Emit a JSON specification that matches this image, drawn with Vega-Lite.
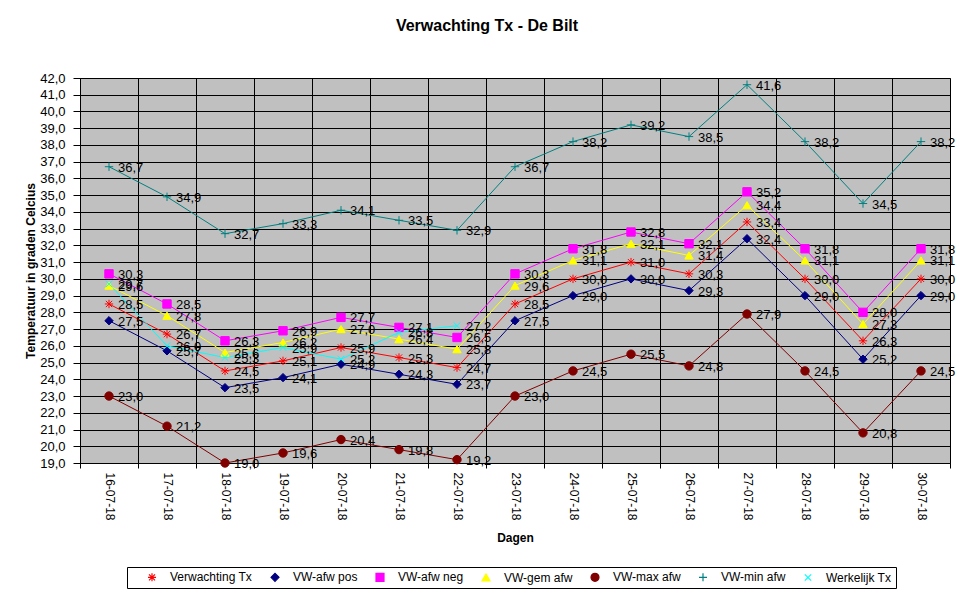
{
  "$schema": "https://vega.github.io/schema/vega-lite/v6.json",
  "width": 870,
  "height": 385,
  "autosize": {"type": "none"},
  "padding": {"left": 80, "top": 78, "right": 25, "bottom": 135},
  "background": "white",
  "title": {
    "text": "Verwachting Tx - De Bilt",
    "font": "Liberation Sans",
    "fontSize": 16,
    "fontWeight": "bold",
    "color": "black",
    "offset": 38,
    "dx": -28
  },
  "config": {
    "locale": {"number": {"decimal": ",", "thousands": ".", "grouping": [3], "currency": ["€", ""]}},
    "view": {"fill": "#C0C0C0", "stroke": "#808080", "strokeWidth": 1},
    "font": "Liberation Sans"
  },
  "data": {
    "values": [
      {"dag": "16-07-18", "reeks": "Verwachting Tx", "temp": 28.5},
      {"dag": "17-07-18", "reeks": "Verwachting Tx", "temp": 26.7},
      {"dag": "18-07-18", "reeks": "Verwachting Tx", "temp": 24.5},
      {"dag": "19-07-18", "reeks": "Verwachting Tx", "temp": 25.1},
      {"dag": "20-07-18", "reeks": "Verwachting Tx", "temp": 25.9},
      {"dag": "21-07-18", "reeks": "Verwachting Tx", "temp": 25.3},
      {"dag": "22-07-18", "reeks": "Verwachting Tx", "temp": 24.7},
      {"dag": "23-07-18", "reeks": "Verwachting Tx", "temp": 28.5},
      {"dag": "24-07-18", "reeks": "Verwachting Tx", "temp": 30.0},
      {"dag": "25-07-18", "reeks": "Verwachting Tx", "temp": 31.0},
      {"dag": "26-07-18", "reeks": "Verwachting Tx", "temp": 30.3},
      {"dag": "27-07-18", "reeks": "Verwachting Tx", "temp": 33.4},
      {"dag": "28-07-18", "reeks": "Verwachting Tx", "temp": 30.0},
      {"dag": "29-07-18", "reeks": "Verwachting Tx", "temp": 26.3},
      {"dag": "30-07-18", "reeks": "Verwachting Tx", "temp": 30.0},

      {"dag": "16-07-18", "reeks": "VW-afw pos", "temp": 27.5},
      {"dag": "17-07-18", "reeks": "VW-afw pos", "temp": 25.7},
      {"dag": "18-07-18", "reeks": "VW-afw pos", "temp": 23.5},
      {"dag": "19-07-18", "reeks": "VW-afw pos", "temp": 24.1},
      {"dag": "20-07-18", "reeks": "VW-afw pos", "temp": 24.9},
      {"dag": "21-07-18", "reeks": "VW-afw pos", "temp": 24.3},
      {"dag": "22-07-18", "reeks": "VW-afw pos", "temp": 23.7},
      {"dag": "23-07-18", "reeks": "VW-afw pos", "temp": 27.5},
      {"dag": "24-07-18", "reeks": "VW-afw pos", "temp": 29.0},
      {"dag": "25-07-18", "reeks": "VW-afw pos", "temp": 30.0},
      {"dag": "26-07-18", "reeks": "VW-afw pos", "temp": 29.3},
      {"dag": "27-07-18", "reeks": "VW-afw pos", "temp": 32.4},
      {"dag": "28-07-18", "reeks": "VW-afw pos", "temp": 29.0},
      {"dag": "29-07-18", "reeks": "VW-afw pos", "temp": 25.2},
      {"dag": "30-07-18", "reeks": "VW-afw pos", "temp": 29.0},

      {"dag": "16-07-18", "reeks": "VW-afw neg", "temp": 30.3},
      {"dag": "17-07-18", "reeks": "VW-afw neg", "temp": 28.5},
      {"dag": "18-07-18", "reeks": "VW-afw neg", "temp": 26.3},
      {"dag": "19-07-18", "reeks": "VW-afw neg", "temp": 26.9},
      {"dag": "20-07-18", "reeks": "VW-afw neg", "temp": 27.7},
      {"dag": "21-07-18", "reeks": "VW-afw neg", "temp": 27.1},
      {"dag": "22-07-18", "reeks": "VW-afw neg", "temp": 26.5},
      {"dag": "23-07-18", "reeks": "VW-afw neg", "temp": 30.3},
      {"dag": "24-07-18", "reeks": "VW-afw neg", "temp": 31.8},
      {"dag": "25-07-18", "reeks": "VW-afw neg", "temp": 32.8},
      {"dag": "26-07-18", "reeks": "VW-afw neg", "temp": 32.1},
      {"dag": "27-07-18", "reeks": "VW-afw neg", "temp": 35.2},
      {"dag": "28-07-18", "reeks": "VW-afw neg", "temp": 31.8},
      {"dag": "29-07-18", "reeks": "VW-afw neg", "temp": 28.0},
      {"dag": "30-07-18", "reeks": "VW-afw neg", "temp": 31.8},

      {"dag": "16-07-18", "reeks": "VW-gem afw", "temp": 29.6},
      {"dag": "17-07-18", "reeks": "VW-gem afw", "temp": 27.8},
      {"dag": "18-07-18", "reeks": "VW-gem afw", "temp": 25.6},
      {"dag": "19-07-18", "reeks": "VW-gem afw", "temp": 26.2},
      {"dag": "20-07-18", "reeks": "VW-gem afw", "temp": 27.0},
      {"dag": "21-07-18", "reeks": "VW-gem afw", "temp": 26.4},
      {"dag": "22-07-18", "reeks": "VW-gem afw", "temp": 25.8},
      {"dag": "23-07-18", "reeks": "VW-gem afw", "temp": 29.6},
      {"dag": "24-07-18", "reeks": "VW-gem afw", "temp": 31.1},
      {"dag": "25-07-18", "reeks": "VW-gem afw", "temp": 32.1},
      {"dag": "26-07-18", "reeks": "VW-gem afw", "temp": 31.4},
      {"dag": "27-07-18", "reeks": "VW-gem afw", "temp": 34.4},
      {"dag": "28-07-18", "reeks": "VW-gem afw", "temp": 31.1},
      {"dag": "29-07-18", "reeks": "VW-gem afw", "temp": 27.3},
      {"dag": "30-07-18", "reeks": "VW-gem afw", "temp": 31.1},

      {"dag": "16-07-18", "reeks": "VW-max afw", "temp": 23.0},
      {"dag": "17-07-18", "reeks": "VW-max afw", "temp": 21.2},
      {"dag": "18-07-18", "reeks": "VW-max afw", "temp": 19.0},
      {"dag": "19-07-18", "reeks": "VW-max afw", "temp": 19.6},
      {"dag": "20-07-18", "reeks": "VW-max afw", "temp": 20.4},
      {"dag": "21-07-18", "reeks": "VW-max afw", "temp": 19.8},
      {"dag": "22-07-18", "reeks": "VW-max afw", "temp": 19.2},
      {"dag": "23-07-18", "reeks": "VW-max afw", "temp": 23.0},
      {"dag": "24-07-18", "reeks": "VW-max afw", "temp": 24.5},
      {"dag": "25-07-18", "reeks": "VW-max afw", "temp": 25.5},
      {"dag": "26-07-18", "reeks": "VW-max afw", "temp": 24.8},
      {"dag": "27-07-18", "reeks": "VW-max afw", "temp": 27.9},
      {"dag": "28-07-18", "reeks": "VW-max afw", "temp": 24.5},
      {"dag": "29-07-18", "reeks": "VW-max afw", "temp": 20.8},
      {"dag": "30-07-18", "reeks": "VW-max afw", "temp": 24.5},

      {"dag": "16-07-18", "reeks": "VW-min afw", "temp": 36.7},
      {"dag": "17-07-18", "reeks": "VW-min afw", "temp": 34.9},
      {"dag": "18-07-18", "reeks": "VW-min afw", "temp": 32.7},
      {"dag": "19-07-18", "reeks": "VW-min afw", "temp": 33.3},
      {"dag": "20-07-18", "reeks": "VW-min afw", "temp": 34.1},
      {"dag": "21-07-18", "reeks": "VW-min afw", "temp": 33.5},
      {"dag": "22-07-18", "reeks": "VW-min afw", "temp": 32.9},
      {"dag": "23-07-18", "reeks": "VW-min afw", "temp": 36.7},
      {"dag": "24-07-18", "reeks": "VW-min afw", "temp": 38.2},
      {"dag": "25-07-18", "reeks": "VW-min afw", "temp": 39.2},
      {"dag": "26-07-18", "reeks": "VW-min afw", "temp": 38.5},
      {"dag": "27-07-18", "reeks": "VW-min afw", "temp": 41.6},
      {"dag": "28-07-18", "reeks": "VW-min afw", "temp": 38.2},
      {"dag": "29-07-18", "reeks": "VW-min afw", "temp": 34.5},
      {"dag": "30-07-18", "reeks": "VW-min afw", "temp": 38.2},

      {"dag": "16-07-18", "reeks": "Werkelijk Tx", "temp": 29.7},
      {"dag": "17-07-18", "reeks": "Werkelijk Tx", "temp": 26.0},
      {"dag": "18-07-18", "reeks": "Werkelijk Tx", "temp": 25.3},
      {"dag": "19-07-18", "reeks": "Werkelijk Tx", "temp": 25.9},
      {"dag": "20-07-18", "reeks": "Werkelijk Tx", "temp": 25.2},
      {"dag": "21-07-18", "reeks": "Werkelijk Tx", "temp": 26.8},
      {"dag": "22-07-18", "reeks": "Werkelijk Tx", "temp": 27.2}
    ]
  },
  "encoding": {
    "x": {
      "field": "dag",
      "type": "ordinal",
      "sort": null,
      "scale": {"type": "band", "paddingInner": 0, "paddingOuter": 0},
      "title": "Dagen",
      "axis": {
        "labelAngle": 90,
        "labelAlign": "left",
        "labelBaseline": "middle",
        "labelPadding": 4,
        "labelFontSize": 12,
        "labelColor": "black",
        "tickBand": "extent",
        "tickColor": "black",
        "tickSize": 5,
        "domainColor": "black",
        "grid": true,
        "gridColor": "black",
        "gridOpacity": 1,
        "titleFontSize": 12,
        "titleFontWeight": "bold",
        "titleColor": "black",
        "titlePadding": 12
      }
    },
    "y": {
      "field": "temp",
      "type": "quantitative",
      "scale": {"domain": [19, 42], "nice": false, "zero": false},
      "title": "Temperatuur in graden Celcius",
      "axis": {
        "values": [19, 20, 21, 22, 23, 24, 25, 26, 27, 28, 29, 30, 31, 32, 33, 34, 35, 36, 37, 38, 39, 40, 41, 42],
        "format": ".1f",
        "labelFontSize": 13,
        "labelColor": "black",
        "labelPadding": 8,
        "tickColor": "black",
        "tickSize": 7,
        "domainColor": "black",
        "grid": true,
        "gridColor": "black",
        "gridOpacity": 1,
        "titleFontSize": 12,
        "titleFontWeight": "bold",
        "titleColor": "black",
        "titlePadding": 2
      }
    }
  },
  "layer": [
    {
      "mark": {"type": "line", "strokeWidth": 1},
      "encoding": {
        "stroke": {
          "field": "reeks",
          "type": "nominal",
          "title": null,
          "scale": {
            "domain": ["Verwachting Tx", "VW-afw pos", "VW-afw neg", "VW-gem afw", "VW-max afw", "VW-min afw", "Werkelijk Tx"],
            "range": ["#FF0000", "#000080", "#FF00FF", "#FFFF00", "#800000", "#008080", "#00FFFF"]
          }
        }
      }
    },
    {
      "mark": {"type": "point", "size": 70, "strokeWidth": 1, "opacity": 1},
      "encoding": {
        "stroke": {
          "field": "reeks",
          "type": "nominal",
          "title": null,
          "legend": {
            "orient": "none",
            "legendX": 47,
            "legendY": 489,
            "direction": "horizontal",
            "columns": 7,
            "title": null,
            "strokeColor": "black",
            "fillColor": "white",
            "padding": 4,
            "columnPadding": 1,
            "symbolSize": 64,
            "symbolOffset": 15,
            "symbolStrokeWidth": 1.2,
            "labelFontSize": 12,
            "labelColor": "black",
            "labelOffset": 12
          }
        },
        "fill": {
          "field": "reeks",
          "type": "nominal",
          "title": null,
          "scale": {
            "domain": ["Verwachting Tx", "VW-afw pos", "VW-afw neg", "VW-gem afw", "VW-max afw", "VW-min afw", "Werkelijk Tx"],
            "range": ["transparent", "#000080", "#FF00FF", "#FFFF00", "#800000", "transparent", "transparent"]
          }
        },
        "shape": {
          "field": "reeks",
          "type": "nominal",
          "title": null,
          "scale": {
            "domain": ["Verwachting Tx", "VW-afw pos", "VW-afw neg", "VW-gem afw", "VW-max afw", "VW-min afw", "Werkelijk Tx"],
            "range": [
              "M-1,0H1M0,-1V1M-0.75,-0.75L0.75,0.75M-0.75,0.75L0.75,-0.75",
              "diamond",
              "square",
              "triangle-up",
              "circle",
              "M-1,0H1M0,-1V1",
              "M-0.8,-0.8L0.8,0.8M-0.8,0.8L0.8,-0.8"
            ]
          }
        }
      }
    },
    {
      "mark": {
        "type": "text",
        "align": "left",
        "baseline": "middle",
        "dx": 9,
        "dy": 1,
        "fontSize": 13,
        "color": "black"
      },
      "encoding": {
        "text": {"field": "temp", "type": "quantitative", "format": ".1f"}
      }
    }
  ]
}
